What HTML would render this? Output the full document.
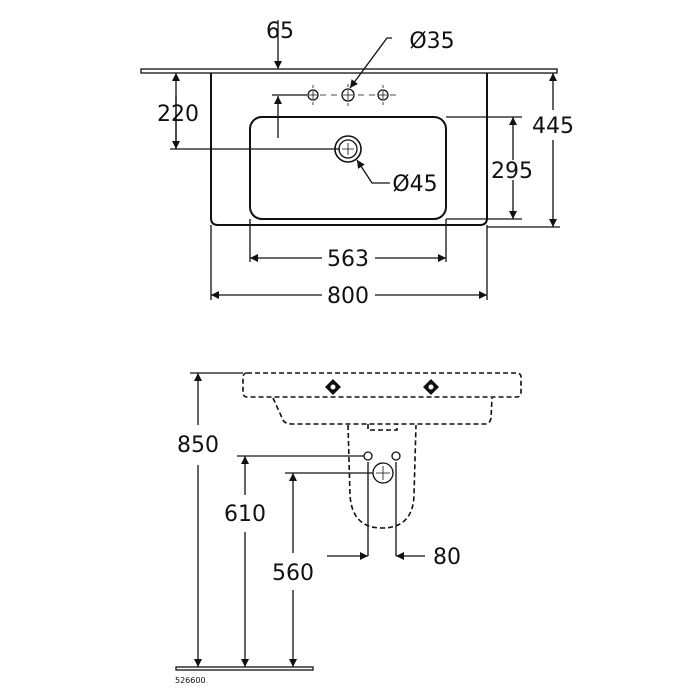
<!DOCTYPE html>
<html><head><style>html,body{margin:0;padding:0;background:#fff}svg{display:block}
text{font-family:"DejaVu Sans","Liberation Sans",sans-serif;fill:#111}</style></head>
<body>
<svg width="700" height="700" viewBox="0 0 700 700" xmlns="http://www.w3.org/2000/svg">
<defs>
<marker id="a" viewBox="0 0 10 10" refX="10" refY="5" markerWidth="13" markerHeight="8" markerUnits="userSpaceOnUse" orient="auto-start-reverse"><path d="M0,0 L10,5 L0,10 z" fill="#111"/></marker>
</defs>
<g fill="none" stroke="#111" stroke-width="1.3">
<rect x="141" y="69" width="416" height="4"/>
<path d="M211,73 L211,218 Q211,225 218,225 L480,225 Q487,225 487,218 L487,73" stroke-width="2"/>
<rect x="250" y="117" width="196" height="102" rx="12" stroke-width="2"/>
<circle cx="313" cy="95" r="5"/><circle cx="348" cy="95" r="6"/><circle cx="383" cy="95" r="5"/>
<path d="M313,91v8M309,95h8M348,90v10M343,95h10M383,91v8M379,95h8" stroke-width="0.8"/>
<path d="M320,95h6M331,95h6M358,95h6M369,95h6M390,95h6M313,85v3M313,102v3M348,84v3M348,103v3M383,85v3M383,102v3" stroke-width="0.8"/>
<circle cx="348" cy="149" r="13" stroke-width="1.6"/><circle cx="348" cy="149" r="9"/>
<path d="M348,143v12M342,149h12" stroke-width="0.8"/>
<path d="M278,20 L278,69" marker-end="url(#a)"/>
<path d="M272,95 H307"/>
<path d="M278,138 L278,96" marker-end="url(#a)"/>
<path d="M176,149 L176,73" marker-end="url(#a)"/>
<path d="M176,96 L176,149" marker-end="url(#a)"/>
<path d="M170,149 H340"/>
<path d="M392,38 H387 L350,88" marker-end="url(#a)"/>
<path d="M390,183 H372 L357,160" marker-end="url(#a)"/>
<path d="M446,117 H522 M446,219 H522 M487,227 H560"/>
<path d="M513,160 L513,117" marker-end="url(#a)"/>
<path d="M513,180 L513,219" marker-end="url(#a)"/>
<path d="M553,110 L553,73" marker-end="url(#a)"/>
<path d="M553,140 L553,227" marker-end="url(#a)"/>
<path d="M211,225 V300 M487,225 V300 M250,219 V262 M446,219 V262"/>
<path d="M322,258 H250" marker-end="url(#a)"/><path d="M375,258 H446" marker-end="url(#a)"/>
<path d="M322,295 H211" marker-end="url(#a)"/><path d="M375,295 H487" marker-end="url(#a)"/>
<g stroke-dasharray="5,3" stroke-width="1.6">
<rect x="243" y="373" width="278" height="24" rx="4"/>
<path d="M273,398 L283,420 Q285,424 292,424 L485,424 Q490,424 491,418 L492,398"/>
<path d="M348,425 L350,495 Q352,528 382,528 Q413,528 414,495 L416,425"/>
<path d="M368,424 V430 H397 V424"/>
</g>
<path d="M325,387 L333,379 L341,387 L333,395 Z M423,387 L431,379 L439,387 L431,395 Z" fill="#111" stroke="none"/>
<circle cx="333" cy="387" r="2.5" fill="#fff" stroke="none"/><circle cx="431" cy="387" r="2.5" fill="#fff" stroke="none"/>
<circle cx="368" cy="456" r="4"/><circle cx="396" cy="456" r="4"/>
<circle cx="383" cy="473" r="10"/><path d="M383,466v14M376,473h14" stroke-width="0.8"/>
<path d="M368,462 V556 M396,462 V556"/>
<path d="M190,373 H243 M237,456 H364 M285,473 H373"/>
<path d="M198,425 L198,373" marker-end="url(#a)"/><path d="M198,465 L198,667" marker-end="url(#a)"/>
<path d="M245,495 L245,456" marker-end="url(#a)"/><path d="M245,532 L245,667" marker-end="url(#a)"/>
<path d="M293,553 L293,473" marker-end="url(#a)"/><path d="M293,590 L293,667" marker-end="url(#a)"/>
<path d="M327,556 L368,556" marker-end="url(#a)"/><path d="M425,556 L396,556" marker-end="url(#a)"/>
<rect x="176" y="667" width="137" height="3"/>
</g>
<g font-size="22" text-anchor="middle">
<text x="280" y="38">65</text>
<text x="432" y="48">Ø35</text>
<text x="178" y="121">220</text>
<text x="415" y="191">Ø45</text>
<text x="512" y="178">295</text>
<text x="553" y="133">445</text>
<text x="348" y="266">563</text>
<text x="348" y="303">800</text>
<text x="198" y="452">850</text>
<text x="245" y="521">610</text>
<text x="293" y="580">560</text>
<text x="447" y="564">80</text>
</g>
<text x="175" y="683" font-size="8">526600</text>
</svg>
</body></html>
